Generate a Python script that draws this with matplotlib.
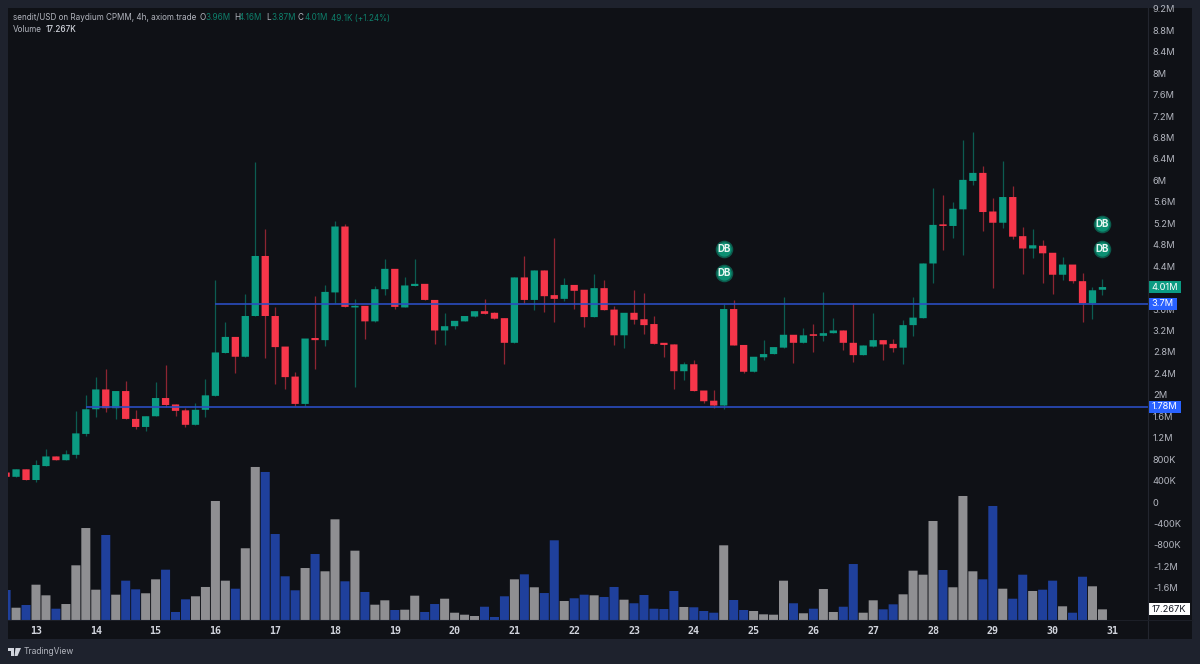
import numpy as np
import matplotlib
matplotlib.use("Agg")
import matplotlib.pyplot as plt
from matplotlib.patches import Rectangle, Polygon
from matplotlib.transforms import blended_transform_factory

plt.rcParams['font.family'] = ['Inter', 'DejaVu Sans']

# ── 数据 (4h K 线，单位 M；成交量单位 K) ──────────
opens = [0.55, 0.47, 0.61, 0.41, 0.67, 0.85, 0.78, 0.88, 1.27, 1.73, 2.10, 1.75, 2.07, 1.55, 1.40, 1.60, 1.94, 1.82, 1.71, 1.44,
         1.72, 1.98, 2.78, 3.08, 2.71, 3.47, 4.59, 3.47, 2.90, 2.34, 1.83, 3.06, 3.02, 3.91, 5.14, 3.63, 3.66, 3.37, 3.97, 4.35,
         3.63, 4.03, 4.07, 3.77, 3.20, 3.28, 3.37, 3.46, 3.56, 3.53, 3.43, 2.97, 4.19, 3.77, 4.32, 3.86, 3.79, 4.05, 3.96, 3.45,
         3.99, 3.59, 3.11, 3.53, 3.41, 3.32, 2.97, 2.94, 2.44, 2.57, 2.08, 1.89, 1.80, 3.60, 2.93, 2.43, 2.70, 2.76, 2.88, 3.12,
         2.97, 3.12, 3.10, 3.15, 3.20, 2.97, 2.74, 2.90, 3.02, 2.95, 2.88, 3.30, 3.43, 4.45, 5.17, 5.15, 5.46, 5.99, 6.14, 5.42,
         5.21, 5.69, 4.96, 4.73, 4.78, 4.65, 4.24, 4.43, 4.12, 3.71, 3.96]
highs = [0.55, 0.61, 0.61, 0.78, 0.98, 0.85, 0.97, 1.70, 2.00, 2.33, 2.49, 2.07, 2.26, 1.72, 1.60, 2.24, 2.55, 1.82, 1.75, 1.84,
         2.29, 4.14, 3.35, 3.08, 3.89, 6.34, 5.09, 3.64, 2.90, 2.43, 3.05, 3.84, 4.05, 5.24, 5.18, 3.79, 3.66, 4.03, 4.53, 4.35,
         4.19, 4.53, 4.07, 3.77, 3.53, 3.38, 3.47, 3.56, 3.78, 3.55, 3.43, 4.19, 4.59, 4.32, 4.32, 4.92, 4.17, 4.05, 3.96, 4.25,
         4.14, 3.66, 3.53, 3.96, 3.90, 3.47, 2.97, 2.94, 2.61, 2.64, 2.08, 2.09, 3.69, 3.77, 2.93, 2.71, 3.02, 2.89, 3.82, 3.12,
         3.24, 3.32, 3.92, 3.43, 3.20, 3.72, 2.92, 3.53, 3.02, 3.04, 3.40, 3.83, 4.45, 5.86, 5.73, 5.59, 6.75, 6.90, 6.27, 5.68,
         6.36, 5.90, 5.14, 5.09, 4.89, 4.65, 4.57, 4.43, 4.27, 4.02, 4.16]
lows = [0.47, 0.47, 0.41, 0.38, 0.67, 0.78, 0.78, 0.82, 1.23, 1.59, 1.67, 1.54, 1.55, 1.37, 1.32, 1.60, 1.78, 1.60, 1.39, 1.44,
        1.58, 1.98, 2.78, 2.41, 2.71, 3.47, 2.68, 2.21, 2.10, 1.80, 1.80, 2.49, 2.91, 3.71, 3.64, 2.14, 3.04, 3.35, 3.86, 3.60,
        3.63, 4.03, 3.77, 2.95, 2.93, 3.23, 3.37, 3.46, 3.50, 3.42, 2.57, 2.97, 3.71, 3.58, 3.54, 3.36, 3.75, 3.60, 3.27, 3.45,
        3.58, 2.92, 2.88, 3.32, 3.13, 2.95, 2.70, 2.11, 2.28, 2.07, 1.84, 1.75, 1.73, 2.92, 2.41, 2.43, 2.65, 2.76, 2.88, 2.60,
        2.96, 2.80, 3.01, 3.15, 2.83, 2.62, 2.74, 2.90, 2.65, 2.80, 2.57, 3.10, 3.43, 4.09, 4.70, 4.92, 4.61, 5.91, 5.06, 4.00,
        5.12, 4.90, 4.25, 4.55, 4.09, 3.88, 4.14, 4.09, 3.35, 3.41, 3.87]
closes = [0.47, 0.61, 0.41, 0.69, 0.85, 0.78, 0.89, 1.28, 1.73, 2.10, 1.75, 2.07, 1.55, 1.40, 1.60, 1.94, 1.81, 1.70, 1.44, 1.72,
          1.99, 2.79, 3.08, 2.71, 3.47, 4.59, 3.47, 2.89, 2.33, 1.83, 3.05, 3.02, 3.92, 5.14, 3.64, 3.66, 3.37, 3.97, 4.35, 3.64,
          4.04, 4.07, 3.77, 3.20, 3.28, 3.38, 3.47, 3.56, 3.51, 3.42, 2.97, 4.19, 3.77, 4.32, 3.84, 3.79, 4.05, 3.94, 3.45, 3.99,
          3.58, 3.11, 3.53, 3.40, 3.30, 2.95, 2.93, 2.44, 2.57, 2.07, 1.88, 1.80, 3.60, 2.92, 2.43, 2.71, 2.76, 2.89, 3.12, 2.97,
          3.11, 3.10, 3.15, 3.20, 2.97, 2.74, 2.92, 3.02, 2.94, 2.87, 3.30, 3.44, 4.45, 5.17, 5.15, 5.47, 6.01, 6.14, 5.41, 5.21,
          5.69, 4.95, 4.73, 4.79, 4.64, 4.24, 4.43, 4.12, 3.71, 3.95, 4.01]
volumes = [48.6, 19.9, 24.3, 57.2, 40.0, 18.3, 25.9, 88.6, 149.0, 49.1, 137.7, 41.0, 63.7, 49.7, 43.3, 65.9, 81.5, 13.0, 33.5, 38.4,
           53.5, 192.8, 63.7, 50.7, 116.2, 247.9, 239.8, 139.3, 70.8, 48.1, 84.2, 106.9, 78.9, 163.1, 62.7, 112.3, 45.4, 24.8, 31.9, 16.2,
           16.7, 39.4, 13.0, 25.9, 34.5, 11.8, 8.6, 6.5, 21.5, 4.9, 38.4, 65.9, 74.0, 53.0, 43.7, 129.1, 30.8, 35.2, 41.0, 40.0,
           37.3, 53.5, 32.9, 27.1, 40.5, 18.3, 17.8, 47.0, 21.1, 20.6, 14.6, 11.8, 121.0, 32.4, 16.2, 14.6, 9.2, 8.6, 63.7, 27.1,
           10.9, 18.3, 50.2, 13.0, 21.5, 90.7, 11.8, 31.9, 17.3, 25.4, 41.6, 79.9, 73.4, 160.4, 81.0, 53.0, 200.9, 78.9, 65.9, 184.7,
           50.7, 34.5, 73.4, 47.0, 49.1, 63.7, 22.2, 11.8, 70.1, 54.6, 17.267]
# b=蓝, g=灰
vol_sides = list("bgbggbgggg" "bgbbggbbbg" "gggbggbbbb" "gbggbgbggb" "ggbbggggbb" "bgbgbbgbbg"
                 "bbgbbbbbgb" "bbgbbggggb" "gbggbbggbb" "ggggbgggbb" "gbbgbbgbbgg")
day_ticks = list(range(13, 32))
# 4M 被 4.01M 标签完全盖住，原图看不到
price_ticks = [9.2, 8.8, 8.4, 8.0, 7.6, 7.2, 6.8, 6.4, 6.0, 5.6, 5.2, 4.8, 4.4, 3.6, 3.2, 2.8, 2.4, 2.0, 1.6, 1.2,
               0.8, 0.4, 0.0, -0.4, -0.8, -1.2, -1.6]
price_labels = ['9.2M', '8.8M', '8.4M', '8M', '7.6M', '7.2M', '6.8M', '6.4M', '6M', '5.6M', '5.2M', '4.8M', '4.4M',
                '3.6M', '3.2M', '2.8M', '2.4M', '2M', '1.6M', '1.2M', '800K', '400K', '0', '-400K', '-800K', '-1.2M', '-1.6M']
level_upper = 3.7
level_lower = 1.78
db_days = [24.5, 24.5, 30.83, 30.83]
db_prices = [4.72, 4.27, 5.19, 4.72]

FIRST_DAY = 12.5
BARS_PER_DAY = 6

# 颜色
BG_FRAME = '#1e222d'
BG_PANEL = '#0f1116'
UP = '#0b9b82'
DOWN = '#f5364a'
VOL_BLUE = '#1f409c'
VOL_GRAY = '#8f8f92'
LINE_BLUE = '#2a4cc0'
TEXT = '#b2b5be'
TEAL_TEXT = '#0e7f6b'

W, H = 1200, 664
HEAD_SIZE = 5.85


def fx(px):
    return px / W


def fy(py):
    return 1 - py / H


fig = plt.figure(figsize=(12, 6.64), dpi=100, facecolor=BG_FRAME)

# 内面板 + 右侧价格刻度区
fig.patches.append(Rectangle((fx(8), fy(639)), fx(1192) - fx(8), fy(8) - fy(639),
                             transform=fig.transFigure, facecolor=BG_PANEL, edgecolor='none', zorder=-5))
fig.add_artist(plt.Line2D([fx(1148), fx(1148)], [fy(8), fy(639)], color='#23262f', lw=0.8))
fig.add_artist(plt.Line2D([fx(8), fx(1192)], [fy(620), fy(620)], color='#1c1f27', lw=0.8))

ax = fig.add_axes([fx(8), fy(620), fx(1148) - fx(8), fy(8) - fy(620)])
ax.set_facecolor('none')
ax.set_xlim(12.532, 31.595)
ax.set_ylim(-2.2015, 9.2166)
for s in ax.spines.values():
    s.set_visible(False)

x = FIRST_DAY + np.arange(len(opens)) / BARS_PER_DAY
o, h, l, c = map(np.array, (opens, highs, lows, closes))
up = c >= o
colors = np.where(up, UP, DOWN)

# K 线：影线 + 实体
ax.vlines(x, l, h, colors=colors, lw=0.9, alpha=0.55, zorder=2)
bodies = ax.bar(x, np.maximum(np.abs(c - o), 0.03), bottom=np.minimum(o, c), width=0.122, color=colors, zorder=3)
for b in bodies:
    b.set_snap(False)

# 水平位
ax.hlines(level_upper, x[21], ax.get_xlim()[1], color=LINE_BLUE, lw=1.2, zorder=4)
ax.hlines(level_lower, x[8], ax.get_xlim()[1], color=LINE_BLUE, lw=1.2, zorder=4)

# 成交量放到副轴，底部对齐
vax = ax.twinx()
vax.set_facecolor('none')
vax.set_ylim(0, 991.4)
vax.set_yticks([])
for s in vax.spines.values():
    s.set_visible(False)
vbars = vax.bar(x, volumes, width=0.151, color=[VOL_BLUE if v == 'b' else VOL_GRAY for v in vol_sides], zorder=2)
for b in vbars:
    b.set_snap(False)

# 刻度
ax.yaxis.tick_right()
ax.set_yticks(price_ticks)
ax.set_yticklabels(price_labels, fontsize=6.7, color=TEXT)
ax.tick_params(axis='y', length=0, pad=3.5)
ax.set_xticks(day_ticks)
ax.set_xticklabels([str(d) for d in day_ticks], fontsize=7.2, color='#d1d4dc', family='DejaVu Sans Mono', fontweight='bold')
ax.tick_params(axis='x', length=0, pad=4)

# DB 标记
ax.scatter(db_days, db_prices, s=160, color='#0b5c4d', zorder=5, linewidths=0)
ax.scatter(db_days, db_prices, s=105, color='#0b8f72', zorder=6, linewidths=0)
for d, p in zip(db_days, db_prices):
    ax.text(d, p, 'DB', color='#e6f5f1', fontsize=7, fontweight='bold', ha='center', va='center', zorder=7)

# 右侧价格标签
trans = blended_transform_factory(ax.transAxes, ax.transData)
tags = [(closes[-1], '4.01M', 33, UP, 'white'),
        (level_upper, '3.7M', 28.5, '#2962ff', 'white'),
        (level_lower, '1.78M', 33, '#2962ff', 'white')]
for price, txt, wpx, bg, fg in tags:
    ax.add_patch(Rectangle((1.0, price - 0.112), wpx / 1140, 0.224, transform=trans, facecolor=bg,
                           edgecolor='none', clip_on=False, zorder=8))
    ax.text(1.0 + (wpx / 2) / 1140, price, txt, transform=trans, color=fg, fontsize=6.7, ha='center', va='center',
            clip_on=False, zorder=9)

# 成交量当前值标签
vtrans = blended_transform_factory(vax.transAxes, vax.transData)
vax.add_patch(Rectangle((1.0, volumes[-1] - 9.7), 42 / 1140, 19.4, transform=vtrans, facecolor='white',
                        edgecolor='none', clip_on=False, zorder=8))
vax.text(1.0 + 21 / 1140, volumes[-1], '17.267K', transform=vtrans, color='#131722', fontsize=6.7, ha='center',
         va='center', clip_on=False, zorder=9)

# 图例文字
fig.text(fx(13), fy(18), 'sendit/USD on Raydium CPMM, 4h, axiom.trade', color=TEXT, fontsize=HEAD_SIZE, va='center')
for px, s, col in [(199, 'O', TEXT), (205.5, '3.96M', TEAL_TEXT), (234, 'H', TEXT), (238.7, '4.16M', TEAL_TEXT),
                   (266, 'L', TEXT), (271, '3.87M', TEAL_TEXT), (298, 'C', TEXT), (304.5, '4.01M', TEAL_TEXT),
                   (331, '49.1K (+1.24%)', TEAL_TEXT)]:
    fig.text(fx(px), fy(18), s, color=col, fontsize=HEAD_SIZE, va='center')
fig.text(fx(13), fy(30), 'Volume', color=TEXT, fontsize=HEAD_SIZE, va='center')
fig.text(fx(46), fy(30), '17.267K', color='#d1d4dc', fontsize=HEAD_SIZE, va='center', fontweight='medium')

# 底部 logo
logo = '#d1d4dc'
fig.patches.append(Polygon([(fx(8), fy(648)), (fx(14), fy(648)), (fx(14), fy(656)), (fx(11), fy(656)), (fx(11), fy(651)),
                            (fx(8), fy(651))], closed=True, transform=fig.transFigure, facecolor=logo, edgecolor='none'))
fig.patches.append(Polygon([(fx(15.5), fy(648)), (fx(21), fy(648)), (fx(17.5), fy(656)), (fx(14.5), fy(656))],
                           closed=True, transform=fig.transFigure, facecolor=logo, edgecolor='none'))
fig.text(fx(24), fy(652), 'TradingView', color=TEXT, fontsize=6.1, va='center')

fig.savefig('out.png', dpi=100, facecolor=fig.get_facecolor())
